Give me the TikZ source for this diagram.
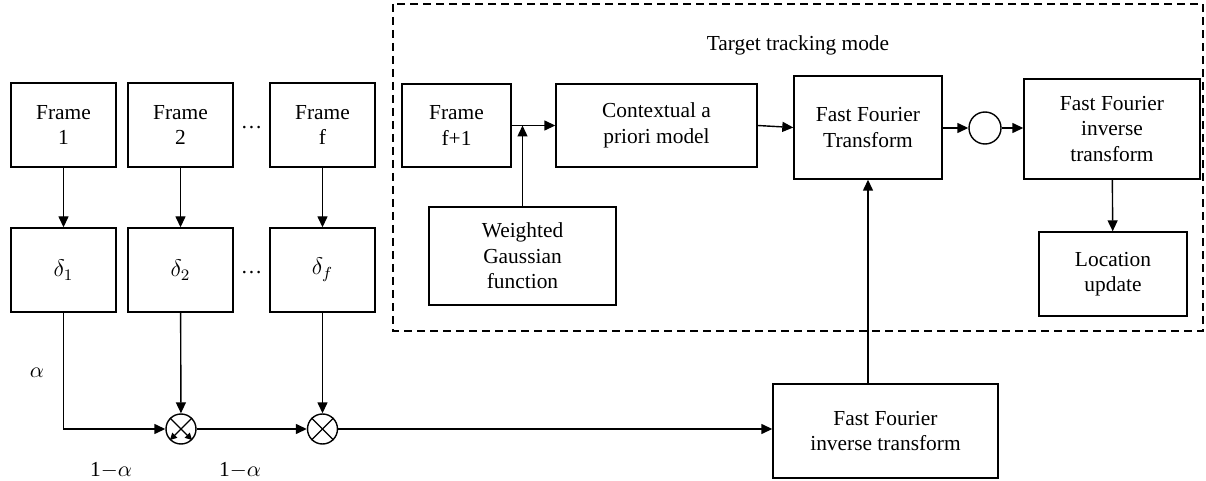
\documentclass[tikz,border=0pt]{standalone}
\usepackage{fontspec}
\setmainfont{Liberation Serif}
\usetikzlibrary{arrows.meta,calc}
\tikzset{
  box/.style={draw, line width=0.7pt, align=center, inner sep=1pt, font=\fontsize{10.7}{12.8}\selectfont},
  mult/.style={draw, circle, line width=0.7pt, minimum size=15pt, inner sep=0pt},
  conn/.style={line width=0.7pt, -{Triangle[length=5.5pt,width=5pt]}},
  plain/.style={line width=0.7pt},
  lbl/.style={font=\fontsize{10.7}{12.8}\selectfont, inner sep=0pt}
}
\begin{document}
\begin{tikzpicture}[x=0.5pt,y=-0.5pt]
\useasboundingbox (0,0) rectangle (1206,481);
% dashed region
\draw[dash pattern=on 4pt off 2.5pt, line width=0.55pt] (393,4) rectangle (1203,331);
\node[lbl] (title) at (798,45) {Target tracking mode};
% left frames
\node[box, minimum width=52.5pt, minimum height=42pt] (f1) at (63.5,125) {Frame\\1};
\node[box, minimum width=52.5pt, minimum height=42pt] (f2) at (180.5,125) {Frame\\2};
\node[box, minimum width=52.5pt, minimum height=42pt] (ff) at (322.5,125) {Frame\\f};
\node[lbl] (dots1) at (251.5,128) {\dots};
\node[box, minimum width=52.5pt, minimum height=42pt, font=\large] (d1) at (63.5,270) {$\delta_1$};
\node[box, minimum width=52.5pt, minimum height=42pt, font=\large] (d2) at (180.5,270) {$\delta_2$};
\node[box, minimum width=52.5pt, minimum height=42pt, font=\large] (df) at (322.5,270) {$\delta_f$};
\node[lbl] (dots2) at (251.5,273) {\dots};
\draw[conn] (f1) -- (d1);
\draw[conn] (f2) -- (d2);
\draw[conn] (ff) -- (df);
% multipliers
\node[mult] (m1) at (181,429) {};
\node[mult] (m2) at (322.5,429) {};
\draw[plain] (m2.45) -- (m2.225);
\draw[plain] (m2.135) -- (m2.315);
\draw[line width=0.6pt, -{Triangle[length=3.5pt,width=3.5pt]}] (m1.45) -- (m1.225);
\draw[line width=0.6pt, -{Triangle[length=3.5pt,width=3.5pt]}] (m1.135) -- (m1.315);
\coordinate (c1) at (63.5,429);
\draw[conn] (d1.south) -- (c1) -- (m1.west);
\draw[conn] (d2) -- (m1);
\draw[conn] (m1) -- (m2);
\draw[conn] (df) -- (m2);
\node[lbl] (alpha) at (37,373) {$\alpha$};
\node[lbl] (oma1) at (111,470) {1$-\alpha$};
\node[lbl] (oma2) at (240,470) {1$-\alpha$};
% bottom FFIT
\node[box, minimum width=112.5pt, minimum height=47pt] (ffit) at (885.5,431) {Fast Fourier\\inverse transform};
\draw[conn] (m2.east) -- (m2.east -| ffit.west);
% tracking mode
\node[box, minimum width=54.5pt, minimum height=41.5pt] (fp) at (456.5,125.5) {Frame\\f+1};
\node[box, minimum width=100.5pt, minimum height=41.5pt] (ctx) at (656.5,125.5) {Contextual a\\priori model};
\node[box, minimum width=93.5pt, minimum height=49pt] (wg) at (522.5,256) {Weighted\\Gaussian\\function};
\node[box, minimum width=74pt, minimum height=51.5pt] (fft) at (868,127.5) {Fast Fourier\\Transform};
\node[mult, minimum size=16pt] (op) at (985,128) {};
\node[box, minimum width=88pt, minimum height=50pt] (ffit2) at (1112,129) {Fast Fourier\\inverse\\transform};
\node[box, minimum width=74pt, minimum height=42pt] (loc) at (1113,274) {Location\\update};
\draw[conn] (fp) -- (ctx);
\draw[conn] (wg.north) -- (wg.north |- fp.east);
\draw[conn] (ctx.east) -- (fft.west);
\draw[conn] (fft.east |- op.west) -- (op.west);
\draw[conn] (op.east) -- (op.east -| ffit2.west);
\draw[conn] (ffit2) -- (loc);
\draw[conn] (ffit.north -| fft.south) -- (fft.south);
\end{tikzpicture}
\end{document}
